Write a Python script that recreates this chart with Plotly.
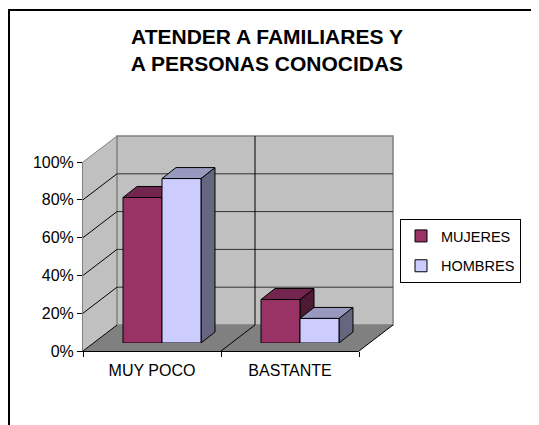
import plotly.graph_objects as go

# ---------------- data ----------------
categories = ["MUY POCO", "BASTANTE"]
series_names = ["MUJERES", "HOMBRES"]
mujeres = [0.77, 0.23]
hombres = [0.87, 0.13]
y_tick_vals = [0, 0.2, 0.4, 0.6, 0.8, 1.0]
y_tick_text = ["0%", "20%", "40%", "60%", "80%", "100%"]
title_text = "<b>ATENDER A FAMILIARES Y<br>A PERSONAS CONOCIDAS</b>"

# ---------------- styling / geometry (screen pixels) ----------------
W, H = 539, 425
OFF = 8                     # page body margin
FX0, FX1 = 83, 359          # front plane x pixels
FY0, FY1 = 351, 162         # front plane y pixels (0% and 100%)
DEPTH_X, DEPTH_Y = 34, 26   # wall depth in px
BAR_SHIFT_X, BAR_SHIFT_Y = 10, 8
BAR_DX, BAR_DY = 14, 11     # bar depth in px
BARGAP = 0.435

front_colors = ["#993366", "#CCCCFF"]
top_colors = ["#73264D", "#9999BF"]
side_colors = ["#4D1A33", "#666680"]
WALL = "#C0C0C0"
FLOOR = "#808080"
FONT = "Liberation Sans, Arial, sans-serif"


def px_x(x):
    return (x - OFF) / W


def px_y(y):
    return 1 - (y - OFF) / H


PW = FX1 - FX0
PH = FY0 - FY1
ddx = DEPTH_X / PW
ddy = DEPTH_Y / PH
bdx = BAR_DX / (PW / len(categories))   # category units
bdy = BAR_DY / PH                        # value units

fig = go.Figure()

# invisible trace to register the categories on the front-plane axis
fig.add_trace(go.Scatter(x=categories, y=mujeres, mode="markers",
                         marker=dict(opacity=0), showlegend=False,
                         hoverinfo="skip", xaxis="x", yaxis="y"))

values = [mujeres, hombres]
for i, name in enumerate(series_names):
    fig.add_trace(go.Bar(x=categories, y=values[i], name=name,
                         marker=dict(color=front_colors[i],
                                     line=dict(color="black", width=1)),
                         xaxis="x2", yaxis="y2", legendgroup=name))

shapes = []
dom = dict(xref="x domain", yref="y domain", layer="below")
# left wall
shapes.append(dict(type="path", **dom,
                   path=f"M0,0 L{ddx},{ddy} L{ddx},{1+ddy} L0,1 Z",
                   fillcolor=WALL, line=dict(width=0)))
# back wall
shapes.append(dict(type="rect", **dom, x0=ddx, x1=1+ddx, y0=ddy, y1=1+ddy,
                   fillcolor=WALL, line=dict(color="#808080", width=1.5)))
# floor
shapes.append(dict(type="path", **dom,
                   path=f"M0,0 L1,0 L{1+ddx},{ddy} L{ddx},{ddy} Z",
                   fillcolor=FLOOR, line=dict(width=0)))
# back gridlines
for v in y_tick_vals[1:-1]:
    shapes.append(dict(type="line", **dom, x0=ddx, x1=1+ddx, y0=v+ddy, y1=v+ddy,
                       line=dict(color="#303030", width=1)))
# left wall diagonals
for v in y_tick_vals:
    col = "#808080" if v == y_tick_vals[-1] else "black"
    shapes.append(dict(type="line", **dom, x0=0, x1=ddx, y0=v, y1=v+ddy,
                       line=dict(color=col, width=1)))
# category dividers
n = len(categories)
for k in range(1, n):
    b = k / n
    shapes.append(dict(type="line", **dom, x0=b, x1=b+ddx, y0=0, y1=ddy,
                       line=dict(color="black", width=1)))
    shapes.append(dict(type="line", **dom, x0=b+ddx, x1=b+ddx, y0=ddy, y1=1+ddy,
                       line=dict(color="black", width=1)))
# floor right edge
shapes.append(dict(type="line", **dom, x0=1, x1=1+ddx, y0=0, y1=ddy,
                   line=dict(color="black", width=1)))

# 3D faces of bars (computed from the data)
half = (1 - BARGAP) / 2
for i in range(len(series_names)):
    for j, v in enumerate(values[i]):
        x0 = j - half + i * half
        x1 = x0 + half
        top = f"M{x0},{v} L{x1},{v} L{x1+bdx},{v+bdy} L{x0+bdx},{v+bdy} Z"
        side = f"M{x1},0 L{x1+bdx},{bdy} L{x1+bdx},{v+bdy} L{x1},{v} Z"
        shapes.append(dict(type="path", xref="x2", yref="y2", layer="below",
                           path=side, fillcolor=side_colors[i],
                           line=dict(color="black", width=1)))
        shapes.append(dict(type="path", xref="x2", yref="y2", layer="below",
                           path=top, fillcolor=top_colors[i],
                           line=dict(color="black", width=1)))

# outer chart border (left and top visible)
bx = 1 / W
by = px_y(10)
shapes.append(dict(type="path", xref="paper", yref="paper", layer="above",
                   path=f"M{bx},0 L{bx},{by} L1.01,{by}",
                   line=dict(color="black", width=2)))

fig.update_layout(
    width=W, height=H,
    margin=dict(l=0, r=0, t=0, b=0, autoexpand=False),
    paper_bgcolor="white", plot_bgcolor="rgba(0,0,0,0)",
    font=dict(family=FONT, color="black", size=16),
    title=dict(text=title_text, x=px_x(267), xanchor="center",
               y=px_y(44), yanchor="middle", automargin=False,
               font=dict(family=FONT, size=21, color="black")),
    barmode="group", bargap=BARGAP, bargroupgap=0,
    showlegend=True,
    legend=dict(x=px_x(400), y=px_y(219), xanchor="left", yanchor="top",
                bordercolor="black", borderwidth=1, bgcolor="white",
                font=dict(family=FONT, size=14.5), tracegroupgap=8,
                traceorder="grouped", itemwidth=30),
    xaxis=dict(domain=[px_x(FX0), px_x(FX1)], anchor="y", type="category",
               categoryorder="array", categoryarray=categories,
               range=[-0.5, len(categories) - 0.5], tickson="boundaries",
               ticks="outside", ticklen=5, tickcolor="black",
               showline=True, linecolor="black", linewidth=1,
               showgrid=False, zeroline=False, fixedrange=True,
               automargin=False, ticklabelstandoff=5,
               tickfont=dict(size=16)),
    yaxis=dict(domain=[px_y(FY0), px_y(FY1)], anchor="x",
               range=[0, 1], tickmode="array", tickvals=y_tick_vals,
               ticktext=y_tick_text, ticks="outside", ticklen=5,
               tickcolor="black", showline=True, linecolor="#808080",
               linewidth=1, showgrid=False, zeroline=False, fixedrange=True,
               automargin=False, tickfont=dict(size=16)),
    xaxis2=dict(domain=[px_x(FX0 + BAR_SHIFT_X), px_x(FX1 + BAR_SHIFT_X)],
                anchor="y2", type="category", categoryorder="array",
                categoryarray=categories, automargin=False,
                range=[-0.5, len(categories) - 0.5], visible=False,
                fixedrange=True),
    yaxis2=dict(domain=[px_y(FY0 - BAR_SHIFT_Y), px_y(FY1 - BAR_SHIFT_Y)],
                anchor="x2", range=[0, 1], visible=False, fixedrange=True,
                automargin=False),
    shapes=shapes,
)

fig.write_html("out.html")
